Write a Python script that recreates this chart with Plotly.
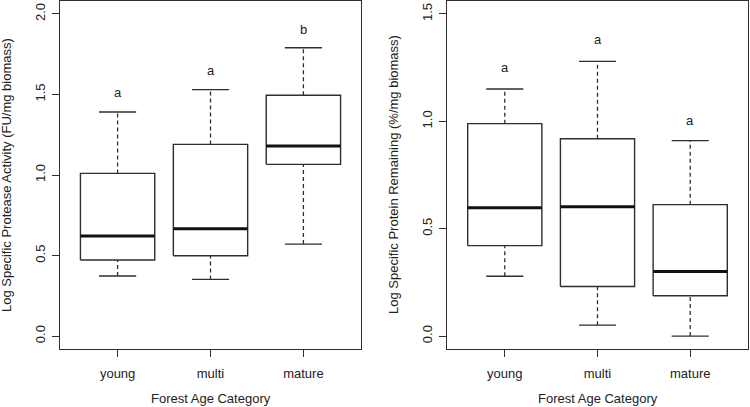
import plotly.graph_objects as go

categories = ["young", "multi", "mature"]

# Panel 1: Log Specific Protease Activity
p1_lower = [0.373, 0.352, 0.571]
p1_q1 = [0.472, 0.499, 1.066]
p1_median = [0.621, 0.667, 1.180]
p1_q3 = [1.010, 1.190, 1.495]
p1_upper = [1.391, 1.530, 1.790]
p1_letters = ["a", "a", "b"]
p1_letter_y = [1.51, 1.65, 1.90]

# Panel 2: Log Specific Protein Remaining
p2_lower = [0.279, 0.051, 0.000]
p2_q1 = [0.421, 0.231, 0.188]
p2_median = [0.598, 0.602, 0.301]
p2_q3 = [0.989, 0.919, 0.612]
p2_upper = [1.150, 1.279, 0.910]
p2_letters = ["a", "a", "a"]
p2_letter_y = [1.25, 1.38, 1.003]

LINE = "#2e2e2e"
FONT = "Liberation Sans, Arial, Helvetica, sans-serif"
HALF_BOX = 0.4
HALF_CAP = 0.2
W, H = 750, 407


def px_x(p):
    return p / W


def px_y(p):
    return 1 - p / H


fig = go.Figure()


def add_panel(xa, ya, lower, q1, med, q3, upper):
    for i in range(len(categories)):
        xc = i + 1
        fig.add_trace(go.Scatter(
            x=[xc, xc, None, xc, xc], y=[q3[i], upper[i], None, lower[i], q1[i]],
            mode="lines", line=dict(color=LINE, width=1.3, dash="4px,3px"),
            xaxis=xa, yaxis=ya, showlegend=False, hoverinfo="skip"))
        fig.add_trace(go.Scatter(
            x=[xc - HALF_CAP, xc + HALF_CAP, None, xc - HALF_CAP, xc + HALF_CAP],
            y=[upper[i], upper[i], None, lower[i], lower[i]],
            mode="lines", line=dict(color=LINE, width=1.4),
            xaxis=xa, yaxis=ya, showlegend=False, hoverinfo="skip"))
        fig.add_trace(go.Scatter(
            x=[xc - HALF_BOX, xc + HALF_BOX, xc + HALF_BOX, xc - HALF_BOX, xc - HALF_BOX],
            y=[q1[i], q1[i], q3[i], q3[i], q1[i]],
            mode="lines", fill="toself", fillcolor="white",
            line=dict(color=LINE, width=1.4),
            xaxis=xa, yaxis=ya, showlegend=False, hoverinfo="skip"))
        fig.add_trace(go.Scatter(
            x=[xc - HALF_BOX, xc + HALF_BOX], y=[med[i], med[i]],
            mode="lines", line=dict(color="#111111", width=3),
            xaxis=xa, yaxis=ya, showlegend=False, hoverinfo="skip"))


add_panel("x", "y", p1_lower, p1_q1, p1_median, p1_q3, p1_upper)
add_panel("x2", "y2", p2_lower, p2_q1, p2_median, p2_q3, p2_upper)

tfont = dict(family=FONT, size=13, color="#222222")
annotations = []
for i, (t, yv) in enumerate(zip(p1_letters, p1_letter_y)):
    annotations.append(dict(x=i + 1, y=yv, xref="x", yref="y", text=t, showarrow=False,
                            xanchor="center", yanchor="middle", font=tfont))
for i, (t, yv) in enumerate(zip(p2_letters, p2_letter_y)):
    annotations.append(dict(x=i + 1, y=yv, xref="x2", yref="y2", text=t, showarrow=False,
                            xanchor="center", yanchor="middle", font=tfont))

annotations += [
    dict(x=px_x(7), y=px_y(175), xref="paper", yref="paper", textangle=-90,
         xanchor="center", yanchor="middle",
         text="Log Specific Protease Activity (FU/mg biomass)", showarrow=False, font=tfont),
    dict(x=px_x(394), y=px_y(175), xref="paper", yref="paper", textangle=-90,
         xanchor="center", yanchor="middle",
         text="Log Specific Protein Remaining (%/mg biomass)", showarrow=False, font=tfont),
    dict(x=px_x(210.5), y=px_y(398), xref="paper", yref="paper",
         xanchor="center", yanchor="middle",
         text="Forest Age Category", showarrow=False, font=tfont),
    dict(x=px_x(597.5), y=px_y(398), xref="paper", yref="paper",
         xanchor="center", yanchor="middle",
         text="Forest Age Category", showarrow=False, font=tfont),
]

xaxis_common = dict(range=[0.38, 3.62], tickvals=[1, 2, 3], ticktext=categories,
                    ticks="outside", ticklen=7, tickcolor=LINE, tickwidth=1.3,
                    showline=True, linecolor=LINE, linewidth=1.4, mirror=True,
                    showgrid=False, zeroline=False, ticklabelstandoff=5,
                    tickfont=tfont)
yaxis_common = dict(ticks="outside", ticklen=7, tickcolor=LINE, tickwidth=1.3,
                    showline=True, linecolor=LINE, linewidth=1.4, mirror=True,
                    showgrid=False, zeroline=False, tickangle=-90, ticklabelstandoff=2,
                    tickfont=tfont)

fig.update_layout(
    width=W, height=H,
    margin=dict(l=0, r=0, t=0, b=0),
    paper_bgcolor="white", plot_bgcolor="white",
    xaxis=dict(domain=[px_x(60), px_x(361)], anchor="y", **xaxis_common),
    yaxis=dict(domain=[px_y(349), px_y(1)], anchor="x", range=[-0.08, 2.08],
               tickvals=[0, 0.5, 1.0, 1.5, 2.0], ticktext=["0.0", "0.5", "1.0", "1.5", "2.0"],
               **yaxis_common),
    xaxis2=dict(domain=[px_x(447.3), px_x(747.7)], anchor="y2", **xaxis_common),
    yaxis2=dict(domain=[px_y(349), px_y(1)], anchor="x2", range=[-0.06, 1.56],
                tickvals=[0, 0.5, 1.0, 1.5], ticktext=["0.0", "0.5", "1.0", "1.5"],
                **yaxis_common),
    annotations=annotations,
)

fig.write_html("out.html", config={"displayModeBar": False},
               post_script="document.body.style.margin='0';")
